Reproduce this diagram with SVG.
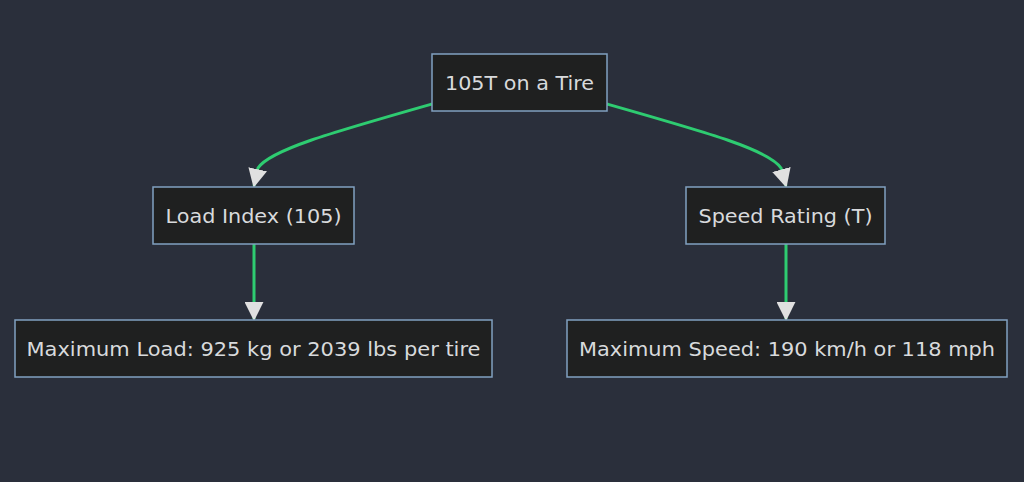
<svg xmlns="http://www.w3.org/2000/svg" width="1024" height="482" viewBox="0 0 1024 482">
<style>
.n rect{fill:#1f2020;stroke:#81a1c1;stroke-width:1.5}
.n text{fill:#d8dadc;font-family:"DejaVu Sans",Verdana,sans-serif;font-size:19px;text-anchor:middle;dominant-baseline:central}
.e path{fill:none;stroke:#2ecc71;stroke-width:3}
</style>
<defs><marker id="a" viewBox="0 0 10 10" refX="9" refY="5" markerWidth="19" markerHeight="19" markerUnits="userSpaceOnUse" orient="auto"><path d="M0,0L10,5L0,10z" fill="#e0e0e0"/></marker></defs>
<rect width="1024" height="482" fill="#2a2f3b"/>
<g class="e">
<path d="M432,104 C330,133 270,150 258,168 L254,186" marker-end="url(#a)"/>
<path d="M607,104 C709,133 769,150 781,168 L786,186" marker-end="url(#a)"/>
<path d="M254,244 L254,319" marker-end="url(#a)"/>
<path d="M786,244 L786,319" marker-end="url(#a)"/>
</g>
<g id="top" class="n"><rect x="432" y="54" width="175" height="57"/><text x="519.5" y="82.5" textLength="149" lengthAdjust="spacingAndGlyphs">105T on a Tire</text></g>
<g id="load" class="n"><rect x="153" y="187" width="201" height="57"/><text x="253.5" y="215.5" textLength="176" lengthAdjust="spacingAndGlyphs">Load Index (105)</text></g>
<g id="speed" class="n"><rect x="686" y="187" width="199" height="57"/><text x="785.5" y="215.5" textLength="174" lengthAdjust="spacingAndGlyphs">Speed Rating (T)</text></g>
<g id="maxload" class="n"><rect x="15" y="320" width="477" height="57"/><text x="253.5" y="348.5" textLength="454" lengthAdjust="spacingAndGlyphs">Maximum Load: 925 kg or 2039 lbs per tire</text></g>
<g id="maxspeed" class="n"><rect x="567" y="320" width="440" height="57"/><text x="787" y="348.5" textLength="416" lengthAdjust="spacingAndGlyphs">Maximum Speed: 190 km/h or 118 mph</text></g>
</svg>
